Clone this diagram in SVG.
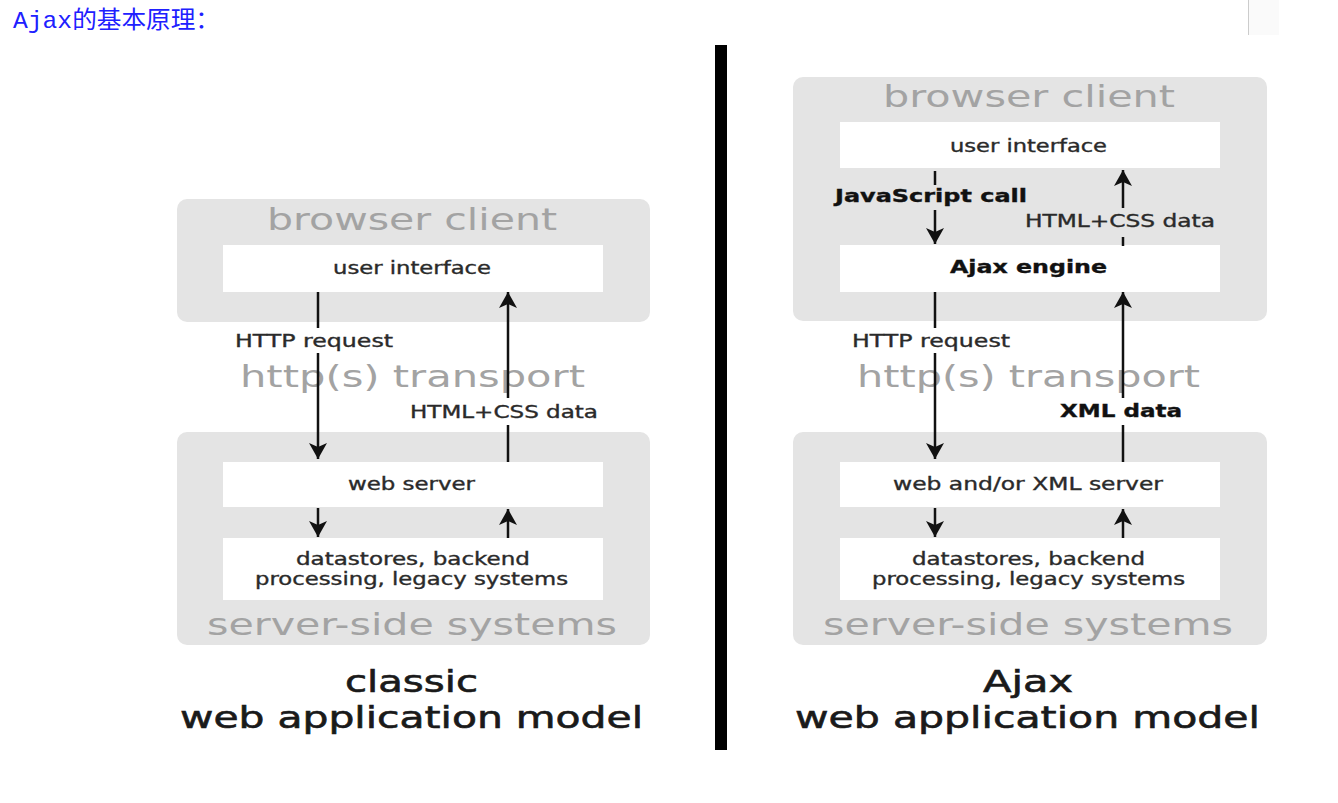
<svg xmlns="http://www.w3.org/2000/svg" width="1338" height="803" viewBox="0 0 1338 803">
<style>
.grp{fill:#e4e4e4}
.wb{fill:#ffffff}
.big{font-family:"DejaVu Sans",Verdana,sans-serif;font-size:30px;fill:#a3a3a3}
.lbl{font-family:"DejaVu Sans",Verdana,sans-serif;font-size:17px;fill:#2a2a2a;stroke:#2a2a2a;stroke-width:0.35}
.bold{font-weight:bold;fill:#111;stroke:#111}
.cap{font-family:"DejaVu Sans",Verdana,sans-serif;font-size:30px;fill:#1a1a1a;stroke:#1a1a1a;stroke-width:0.6}
.ln{stroke:#111;stroke-width:2.5;fill:none}
.title{font-family:"Liberation Mono","Noto Sans CJK SC",monospace;font-size:24px;fill:#2020ff}
</style>
<defs>
<marker id="ah" viewBox="0 0 16 20" refX="16" refY="10" markerWidth="16" markerHeight="20" markerUnits="userSpaceOnUse" orient="auto">
<path d="M0,1 L16,10 L0,19 L4,10 z" fill="#111"/>
</marker>
</defs>
<rect width="1338" height="803" fill="#ffffff"/>
<text class="title" x="13" y="28" textLength="207" lengthAdjust="spacingAndGlyphs">Ajax的基本原理：</text>
<rect x="1248" y="0" width="31" height="35" fill="#fafafa"/>
<line x1="1248.5" y1="0" x2="1248.5" y2="35" stroke="#cccccc" stroke-width="1"/>
<rect id="divider" x="715" y="45" width="12" height="705" fill="#000000"/>

<g id="classic-browser-client">
<rect class="grp" x="177" y="199" width="473" height="123" rx="10"/>
<text class="big" x="267" y="230" textLength="290" lengthAdjust="spacingAndGlyphs">browser client</text>
</g>
<g id="classic-user-interface">
<rect class="wb" x="223" y="245" width="380" height="47"/>
<text class="lbl" x="333" y="274" textLength="158" lengthAdjust="spacingAndGlyphs">user interface</text>
</g>
<g id="classic-transport">
<text class="big" x="240" y="387" textLength="345" lengthAdjust="spacingAndGlyphs">http(s) transport</text>
</g>
<g id="classic-server-side">
<rect class="grp" x="177" y="432" width="473" height="213" rx="10"/>
<text class="big" x="207" y="635" textLength="410" lengthAdjust="spacingAndGlyphs">server-side systems</text>
</g>
<g id="classic-web-server">
<rect class="wb" x="223" y="462" width="380" height="45"/>
<text class="lbl" x="348" y="490" textLength="127" lengthAdjust="spacingAndGlyphs">web server</text>
</g>
<g id="classic-datastores">
<rect class="wb" x="223" y="538" width="380" height="62"/>
<text class="lbl" x="296" y="565" textLength="234" lengthAdjust="spacingAndGlyphs">datastores, backend</text>
<text class="lbl" x="255" y="585" textLength="313" lengthAdjust="spacingAndGlyphs">processing, legacy systems</text>
</g>
<g id="classic-caption">
<text class="cap" x="345" y="692" textLength="133" lengthAdjust="spacingAndGlyphs">classic</text>
<text class="cap" x="180" y="728" textLength="463" lengthAdjust="spacingAndGlyphs">web application model</text>
</g>

<g id="ajax-browser-client">
<rect class="grp" x="793" y="77" width="474" height="244" rx="10"/>
<text class="big" x="883" y="107" textLength="292" lengthAdjust="spacingAndGlyphs">browser client</text>
</g>
<g id="ajax-user-interface">
<rect class="wb" x="840" y="122" width="380" height="46"/>
<text class="lbl" x="950" y="152" textLength="157" lengthAdjust="spacingAndGlyphs">user interface</text>
</g>
<g id="ajax-engine">
<rect class="wb" x="840" y="245" width="380" height="47"/>
<text class="lbl bold" x="950" y="273" textLength="157" lengthAdjust="spacingAndGlyphs">Ajax engine</text>
</g>
<g id="ajax-transport">
<text class="big" x="857" y="387" textLength="343" lengthAdjust="spacingAndGlyphs">http(s) transport</text>
</g>
<g id="ajax-server-side">
<rect class="grp" x="793" y="432" width="474" height="213" rx="10"/>
<text class="big" x="823" y="635" textLength="410" lengthAdjust="spacingAndGlyphs">server-side systems</text>
</g>
<g id="ajax-web-server">
<rect class="wb" x="840" y="462" width="380" height="45"/>
<text class="lbl" x="893" y="490" textLength="270" lengthAdjust="spacingAndGlyphs">web and/or XML server</text>
</g>
<g id="ajax-datastores">
<rect class="wb" x="840" y="538" width="380" height="62"/>
<text class="lbl" x="912" y="565" textLength="233" lengthAdjust="spacingAndGlyphs">datastores, backend</text>
<text class="lbl" x="872" y="585" textLength="313" lengthAdjust="spacingAndGlyphs">processing, legacy systems</text>
</g>
<g id="ajax-caption">
<text class="cap" x="983" y="692" textLength="90" lengthAdjust="spacingAndGlyphs">Ajax</text>
<text class="cap" x="795" y="728" textLength="465" lengthAdjust="spacingAndGlyphs">web application model</text>
</g>

<g id="connectors">
<line class="ln" x1="318" y1="292" x2="318" y2="328"/>
<line class="ln" x1="318" y1="353" x2="318" y2="459" marker-end="url(#ah)"/>
<text class="lbl" x="235" y="347" textLength="158" lengthAdjust="spacingAndGlyphs">HTTP request</text>
<line class="ln" x1="508" y1="398" x2="508" y2="292" marker-end="url(#ah)"/>
<line class="ln" x1="508" y1="425" x2="508" y2="462"/>
<text class="lbl" x="410" y="418" textLength="188" lengthAdjust="spacingAndGlyphs">HTML+CSS data</text>
<line class="ln" x1="318" y1="508" x2="318" y2="537" marker-end="url(#ah)"/>
<line class="ln" x1="508" y1="538" x2="508" y2="509" marker-end="url(#ah)"/>

<line class="ln" x1="935" y1="171" x2="935" y2="185"/>
<text class="lbl bold" x="835" y="202" textLength="192" lengthAdjust="spacingAndGlyphs">JavaScript call</text>
<line class="ln" x1="935" y1="210" x2="935" y2="244" marker-end="url(#ah)"/>
<line class="ln" x1="1123" y1="208" x2="1123" y2="170" marker-end="url(#ah)"/>
<text class="lbl" x="1025" y="227" textLength="190" lengthAdjust="spacingAndGlyphs">HTML+CSS data</text>
<line class="ln" x1="1123" y1="237" x2="1123" y2="246"/>
<line class="ln" x1="935" y1="292" x2="935" y2="328"/>
<text class="lbl" x="852" y="347" textLength="158" lengthAdjust="spacingAndGlyphs">HTTP request</text>
<line class="ln" x1="935" y1="353" x2="935" y2="459" marker-end="url(#ah)"/>
<line class="ln" x1="1123" y1="398" x2="1123" y2="292" marker-end="url(#ah)"/>
<text class="lbl bold" x="1060" y="417" textLength="122" lengthAdjust="spacingAndGlyphs">XML data</text>
<line class="ln" x1="1123" y1="425" x2="1123" y2="462"/>
<line class="ln" x1="935" y1="508" x2="935" y2="537" marker-end="url(#ah)"/>
<line class="ln" x1="1123" y1="538" x2="1123" y2="509" marker-end="url(#ah)"/>
</g>
</svg>
